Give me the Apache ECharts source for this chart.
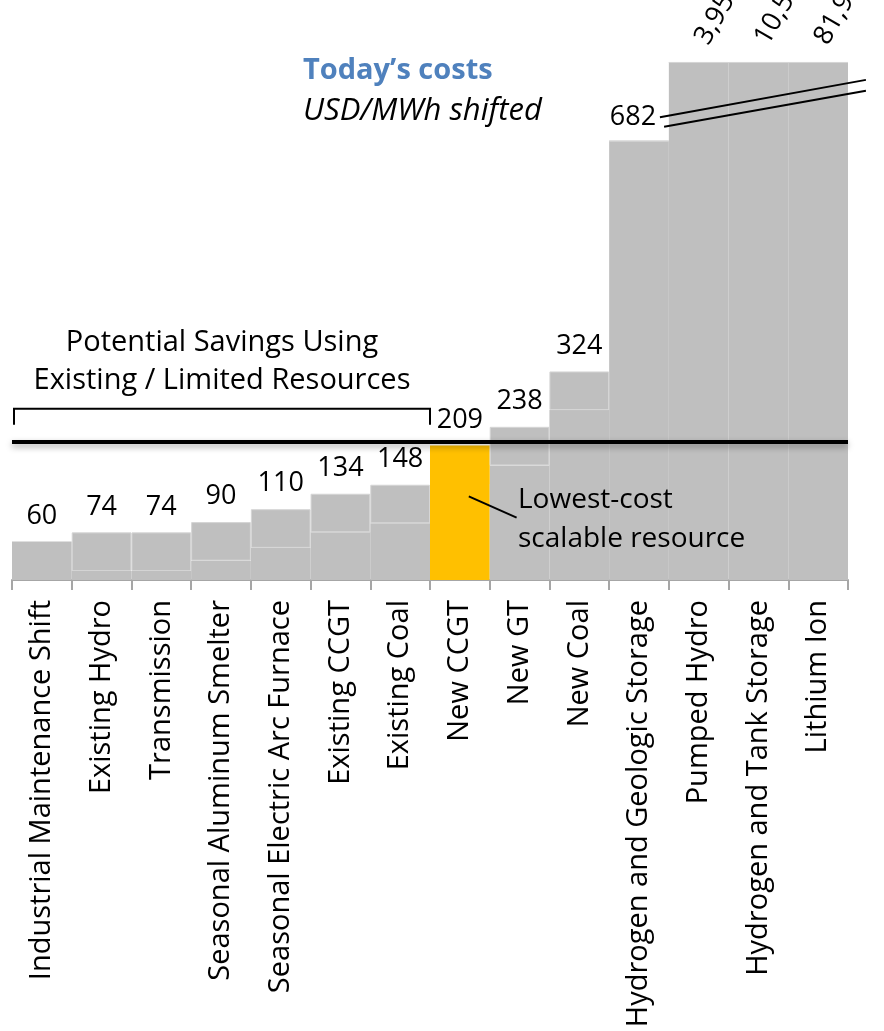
<!DOCTYPE html>
<html>
<head>
<meta charset="utf-8">
<script src="https://cdn.jsdelivr.net/npm/echarts@6/dist/echarts.min.js"></script>
<style>
html,body{margin:0;padding:0;background:#fff;}
#chart{width:884px;height:1031px;}
</style>
</head>
<body>
<div id="chart"></div>
<script>
// ---- data ----
const categories = ["Industrial Maintenance Shift","Existing Hydro","Transmission","Seasonal Aluminum Smelter","Seasonal Electric Arc Furnace","Existing CCGT","Existing Coal","New CCGT","New GT","New Coal","Hydrogen and Geologic Storage","Pumped Hydro","Hydrogen and Tank Storage","Lithium Ion"];
const costs = [60,74,74,90,110,134,148,209,238,324,682,3950,10550,81950];
const costLabels = ["60","74","74","90","110","134","148","209","238","324","682","3,950","10,550","81,950"];
const breakCap = 804;          // displayed height of values beyond the axis break
const upperBlock = 60;         // faint upper block drawn in the lower bars
const upperBlockCount = 10;    // bars that show the faint upper block
const highlightIndex = 7;      // New CCGT
const referenceLevel = 215;    // thick black reference line
const bracketTop = 266, bracketBottom = 241;

const GRAY = '#bfbfbf', ORANGE = '#ffc000';
const FONT = 'Open Sans';

const shown = costs.map(v => Math.min(v, breakCap));
const baseVals = shown.map((v, i) => i < upperBlockCount ? v - upperBlock : v);
const topVals = shown.map((v, i) => i < upperBlockCount ? upperBlock : 0);

const chart = echarts.init(document.getElementById('chart'), null, {renderer: 'canvas'});

const option = {
  animation: false,
  grid: {left: 12, right: 36, top: 20, bottom: 451},
  xAxis: {
    type: 'category',
    data: categories,
    axisLine: {lineStyle: {color: '#a6a6a6', width: 2}},
    axisTick: {show: true, length: 10, lineStyle: {color: '#a6a6a6', width: 2}},
    axisLabel: {rotate: 90, fontSize: 29, fontFamily: FONT, color: '#000', margin: 20, interval: 0}
  },
  yAxis: {type: 'value', min: 0, max: 870, show: false, splitLine: {show: false}},
  series: [
    {
      type: 'bar', stack: 's', barCategoryGap: 0,
      data: baseVals.map((v, i) => ({value: v, itemStyle: {color: i === highlightIndex ? ORANGE : GRAY}})),
      silent: true
    },
    {
      type: 'bar', stack: 's', barCategoryGap: 0,
      data: topVals.map((v, i) => ({
        value: v,
        itemStyle: (i === highlightIndex || i === 0) ? {color: i === highlightIndex ? ORANGE : GRAY} : {color: GRAY, borderColor: '#d5d5d5', borderWidth: 1}
      })),
      silent: true,
      markLine: {
        silent: true, symbol: 'none',
        label: {show: false},
        lineStyle: {color: '#000', width: 4, type: 'solid', shadowBlur: 6, shadowColor: 'rgba(0,0,0,0.35)', shadowOffsetY: 3},
        data: [{yAxis: referenceLevel}]
      }
    },
    {
      type: 'scatter', symbolSize: 0, silent: true, z: 5,
      itemStyle: {opacity: 1},
      data: shown.map((v, i) => {
        const d = {value: v};
        if (i >= 11) {
          d.label = {rotate: 60, align: 'left', verticalAlign: 'middle', position: 'top', distance: 15, offset: [6, 0]};
        } else if (i === 10) {
          d.label = {offset: [-6, 2]};
        }
        return d;
      }),
      label: {
        show: true, position: 'top', distance: 12,
        fontSize: 27, fontFamily: FONT, color: '#000', opacity: 1,
        formatter: p => costLabels[p.dataIndex]
      }
    }
  ]
};
chart.setOption(option);

// ---- annotations positioned through the axes ----
const p0 = chart.convertToPixel({xAxisIndex: 0}, 0);
const p1 = chart.convertToPixel({xAxisIndex: 0}, 1);
const band = p1 - p0;
const xAt = i => p0 + i * band;                 // i = category index (fractional allowed)
const yAt = v => chart.convertToPixel({yAxisIndex: 0}, v);

const bl = xAt(-0.5) + 2, br = xAt(6.5);
const graphics = [
  {type: 'polyline', shape: {points: [[bl, yAt(bracketBottom)], [bl, yAt(bracketTop)], [br, yAt(bracketTop)], [br, yAt(bracketBottom)]]},
   style: {stroke: '#000', lineWidth: 2, fill: null}},
  {type: 'line', shape: {x1: xAt(10.35), y1: yAt(719), x2: xAt(13.8), y2: yAt(777)}, style: {stroke: '#000', lineWidth: 2}},
  {type: 'line', shape: {x1: xAt(10.42), y1: yAt(704), x2: xAt(13.8), y2: yAt(760)}, style: {stroke: '#000', lineWidth: 2}},
  {type: 'line', shape: {x1: xAt(7.15), y1: yAt(130), x2: xAt(7.95), y2: yAt(97)}, style: {stroke: '#000', lineWidth: 2}},
  {type: 'text', x: 303, y: 71, style: {text: 'Today\u2019s costs', font: 'bold 29px "Open Sans"', fill: '#4f81bd', textVerticalAlign: 'middle'}},
  {type: 'text', x: 303, y: 111, style: {text: 'USD/MWh shifted', font: 'italic 31px "Open Sans"', fill: '#000', textVerticalAlign: 'middle'}},
  {type: 'text', x: 222, y: 343, style: {text: 'Potential Savings Using', font: '29px "Open Sans"', fill: '#000', textAlign: 'center', textVerticalAlign: 'middle'}},
  {type: 'text', x: 222, y: 381, style: {text: 'Existing / Limited Resources', font: '29px "Open Sans"', fill: '#000', textAlign: 'center', textVerticalAlign: 'middle'}},
  {type: 'text', x: 518, y: 500, style: {text: 'Lowest-cost', font: '28px "Open Sans"', fill: '#000', textVerticalAlign: 'middle'}},
  {type: 'text', x: 518, y: 539, style: {text: 'scalable resource', font: '28px "Open Sans"', fill: '#000', textVerticalAlign: 'middle'}}
];
chart.setOption({graphic: graphics.map(g => Object.assign({silent: true, z: 10}, g))});
</script>
</body>
</html>
